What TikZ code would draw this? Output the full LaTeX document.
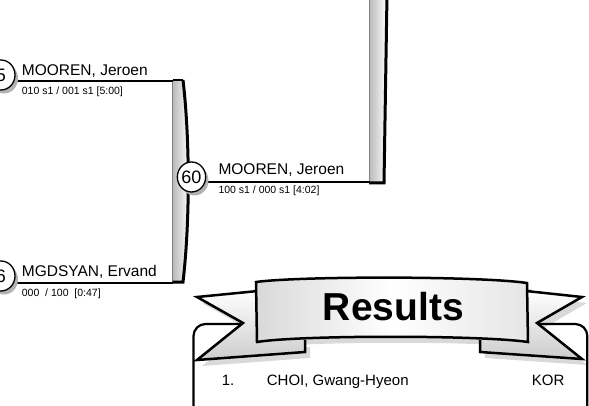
\documentclass[tikz,border=0pt]{standalone}
\usepackage{fontspec}
\setmainfont{Liberation Sans}
\usetikzlibrary{shapes.geometric}
\begin{document}
\begin{tikzpicture}[x=1pt,y=-1pt,
  seed/.style={ellipse, draw=black, line width=1.3pt, fill=white, minimum width=28pt, minimum height=30pt, inner sep=0pt, font=\fontsize{18}{18}\selectfont},
  seedshadow/.style={ellipse, fill=gray!60, minimum width=28pt, minimum height=30pt, inner sep=0pt},
  pname/.style={anchor=base west, inner sep=0pt, font=\fontsize{15.5}{18}\selectfont},
  pscore/.style={anchor=base west, inner sep=0pt, font=\fontsize{10.5}{12}\selectfont},
  wline/.style={line width=2pt},
  barfill/.style={left color=gray!55, right color=white},
  ribline/.style={line width=2.5pt, line join=miter},
  ribshadow/.style={fill=gray!30},
  listtext/.style={anchor=base west, inner sep=0pt, font=\fontsize{15}{18}\selectfont},
]
\useasboundingbox (0,0) rectangle (589,406);
\clip (0,0) rectangle (589,406);

% ---------- lower bracket bar ----------
\shade[barfill] (172.5,80) -- (183,80) .. controls (190,140) and (190,222) .. (183,282) -- (172.5,282) -- cycle;
\draw[gray, line width=1pt] (172.5,80) -- (172.5,282);
\draw[line width=1.2pt] (172.5,80) -- (183,80);
\draw[line width=3pt] (183,80) .. controls (190,140) and (190,222) .. (183,282) -- (172.5,282);

% ---------- upper right bar ----------
\shade[barfill] (369,-5) -- (387,-5) -- (384,183) -- (369,183) -- cycle;
\draw[gray, line width=1pt] (369,-5) -- (369,183);
\draw[line width=3pt] (387,-5) -- (384,183) -- (369,183);

% ---------- bar ends ----------
\coordinate (b1t) at (173,81);
\coordinate (b1b) at (173,282.5);
\coordinate (b2b) at (370,181.7);

% ---------- match 5 ----------
\coordinate (l5) at (1,81);
\draw[wline] (l5) -- (b1t);
\node[seedshadow] at (4,78.5) {};
\node[seed] (s5) at (1,75) {5};
\node[pname] (n5) at (21.7,76) {MOOREN, Jeroen};
\node[pscore] (r5) at (21.7,95) {010 s1 / 001 s1 [5:00]};

% ---------- match 6 ----------
\coordinate (l6) at (1,282.5);
\draw[wline] (l6) -- (b1b);
\node[seedshadow] at (4,279.5) {};
\node[seed] (s6) at (1,276) {6};
\node[pname] (n6) at (21.7,276.7) {MGDSYAN, Ervand};
\node[pscore] (r6) at (21.7,296) {000\ \ / 100\ \ [0:47]};

% ---------- match 60 ----------
\coordinate (l60) at (191.5,181.7);
\draw[wline] (l60) -- (b2b);
\node[seedshadow] at (194.5,180.5) {};
\node[seed] (s60) at (191.5,177) {60};
\node[pname] (n60) at (218.3,175) {MOOREN, Jeroen};
\node[pscore] (r60) at (218.3,193.5) {100 s1 / 000 s1 [4:02]};

% ---------- results ribbon ----------
% shadows
\fill[ribshadow] (263,297) -- (202,303) -- (248,329) -- (202,366) -- (310,358) -- (310,347) -- (263,347) -- cycle;
\fill[ribshadow] (531,297) -- (587,303) -- (542,329) -- (587,365) -- (485,358) -- (485,347) -- (531,347) -- cycle;
\fill[ribshadow] (261,288) .. controls (305,282) and (485,282) .. (532,289) -- (533,348) .. controls (485,341) and (305,341) .. (262,348) -- cycle;

% results box
\draw[line width=2.2pt, rounded corners=12pt] (193.5,430) -- (193.5,324) -- (587.3,324) -- (587.3,430);

% tails
\shade[top color=white, bottom color=gray!40] (258,291) -- (197,297) -- (243,323) -- (197,360) -- (305,352) -- (305,341) -- (258,341) -- cycle;
\draw[ribline] (258,291) -- (197,297) -- (243,323) -- (197,360) -- (305,352) -- (305,340);
\shade[top color=white, bottom color=gray!40] (526,291) -- (582,297) -- (537,323) -- (582,359) -- (480,352) -- (480,341) -- (526,341) -- cycle;
\draw[ribline] (526,291) -- (582,297) -- (537,323) -- (582,359) -- (480,352) -- (480,340);

% banner
\shade[left color=gray!30, right color=gray!20, middle color=white] (256,282) .. controls (300,276) and (480,276) .. (527,283) -- (528,342) .. controls (480,335) and (300,335) .. (257,342) -- cycle;
\draw[ribline] (256,282) .. controls (300,276) and (480,276) .. (527,283) -- (528,342) .. controls (480,335) and (300,335) .. (257,342) -- cycle;
\node[font=\bfseries\fontsize{39}{40}\selectfont, anchor=base, inner sep=0pt] (title) at (393.3,320) {Results};

% list
\node[listtext] (rank1) at (221.7,385) {1.};
\node[listtext] (name1) at (266.7,385) {CHOI, Gwang-Hyeon};
\node[listtext] (nat1) at (531.7,385) {KOR};
\end{tikzpicture}
\end{document}
